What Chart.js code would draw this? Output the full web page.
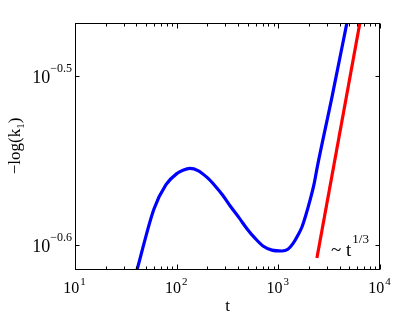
<!DOCTYPE html>
<html>
<head>
<meta charset="utf-8">
<script src="https://cdn.jsdelivr.net/npm/chart.js@4"></script>
<style>
html,body{margin:0;padding:0;background:#fff;}
#wrap{width:420px;height:316px;position:relative;}
</style>
</head>
<body>
<div id="wrap"><canvas id="c" width="420" height="316"></canvas></div>
<script>
// Blue curve: -log(k1) vs t
const blueT = [40.7, 59.8, 78.5, 100.7, 115.3, 135, 162, 199, 238, 285, 342, 410, 491, 589, 706, 865, 1085, 1243, 1392, 1558, 1707, 1868, 2045, 2239, 2420, 3365, 4726];
const blueK = [0.2427, 0.2638, 0.2727, 0.2769, 0.2781, 0.2788, 0.2780, 0.2754, 0.2723, 0.2687, 0.2645, 0.2607, 0.2568, 0.2535, 0.2508, 0.2494, 0.2491, 0.2497, 0.2516, 0.2545, 0.2574, 0.2617, 0.2668, 0.2727, 0.2795, 0.3072, 0.3401];
// Red reference line ~ t^(1/3)
const redT = [2396, 6344];
const redK = [0.2467, 0.3401];
// Axis limits and ticks
const xMin = 10, xMax = 10000;
const yMin = Math.pow(10, -0.6149), yMax = Math.pow(10, -0.4685);
const xTickExps = [1, 2, 3, 4];
const yTickExps = ["-0.6", "-0.5"];
const xTitle = "t";
const yTitle = ["\u2212log(k", "1", ")"];
const annot = ["~ t", "1/3"];

const SERIF = '"Liberation Serif", "DejaVu Serif", serif';

function pts(xs, ys){ return xs.map((x,i)=>({x:x, y:ys[i]})); }

const framePlugin = {
  id: 'frame',
  afterDraw(chart){
    const ctx = chart.ctx, a = chart.chartArea;
    const xs = chart.scales.x, ys = chart.scales.y;
    const L = Math.round(a.left)+0.5, R = Math.round(a.right)-0.5, T = Math.round(a.top)+0.5, B = Math.round(a.bottom)-0.5;
    ctx.save();
    ctx.strokeStyle = '#000';
    ctx.lineWidth = 1;
    ctx.strokeRect(L, T, R-L, B-T);
    ctx.beginPath();
    for (let e = 1; e <= 4; e++) {
      for (let m = 1; m <= 9; m++) {
        if (e === 4 && m > 1) break;
        const v = m * Math.pow(10, e);
        const px = Math.round(xs.getPixelForValue(v)) + 0.5;
        const len = (m === 1) ? 5 : 3;
        ctx.moveTo(px, B); ctx.lineTo(px, B - len);
        ctx.moveTo(px, T); ctx.lineTo(px, T + len);
      }
    }
    yTickExps.forEach(ex => {
      const py = Math.round(ys.getPixelForValue(Math.pow(10, parseFloat(ex)))) + 0.5;
      ctx.moveTo(L, py); ctx.lineTo(L + 4, py);
      ctx.moveTo(R, py); ctx.lineTo(R - 4, py);
    });
    ctx.stroke();

    ctx.fillStyle = '#000';
    ctx.textBaseline = 'alphabetic';
    ctx.textAlign = 'left';
    xTickExps.forEach(ex => {
      const px = xs.getPixelForValue(Math.pow(10, ex));
      ctx.font = '16px ' + SERIF;
      const w1 = ctx.measureText('10').width;
      ctx.font = '11px ' + SERIF;
      const w2 = ctx.measureText(String(ex)).width;
      const x0 = px - (w1 + w2) / 2 - 1;
      ctx.font = '16px ' + SERIF;
      ctx.fillText('10', x0, 293);
      ctx.font = '11px ' + SERIF;
      ctx.fillText(String(ex), x0 + w1 + 1, 285);
    });
    yTickExps.forEach(ex => {
      const py = ys.getPixelForValue(Math.pow(10, parseFloat(ex)));
      const sup = '\u2212' + ex.slice(1);
      ctx.font = '12px ' + SERIF;
      const w2 = ctx.measureText(sup).width;
      ctx.font = '18px ' + SERIF;
      const w1 = ctx.measureText('10').width;
      const xr = 72;
      ctx.fillText('10', xr - w2 - w1, py + 7);
      ctx.font = '12px ' + SERIF;
      ctx.fillText(sup, xr - w2, py - 4);
    });
    ctx.font = '17px ' + SERIF;
    ctx.textAlign = 'center';
    ctx.fillText(xTitle, (a.left + a.right) / 2, 311);
    ctx.save();
    ctx.translate(20, 146);
    ctx.rotate(-Math.PI / 2);
    ctx.textAlign = 'left';
    ctx.font = '17px ' + SERIF;
    const t1 = ctx.measureText(yTitle[0]).width;
    const t3 = ctx.measureText(yTitle[2]).width;
    ctx.font = '11px ' + SERIF;
    const t2 = ctx.measureText(yTitle[1]).width;
    let x0 = -(t1 + t2 + t3) / 2;
    ctx.font = '17px ' + SERIF;
    ctx.fillText(yTitle[0], x0, 0);
    ctx.font = '11px ' + SERIF;
    ctx.fillText(yTitle[1], x0 + t1, 4);
    ctx.font = '17px ' + SERIF;
    ctx.fillText(yTitle[2], x0 + t1 + t2, 0);
    ctx.restore();
    ctx.textAlign = 'left';
    ctx.font = '19px ' + SERIF;
    ctx.fillText(annot[0], 331, 256);
    const aw = ctx.measureText(annot[0]).width;
    ctx.font = '13px ' + SERIF;
    ctx.fillText(annot[1], 331 + aw + 1, 243);
    ctx.restore();
  }
};

new Chart(document.getElementById('c'), {
  type: 'line',
  data: {
    datasets: [
      { data: pts(blueT, blueK), borderColor: '#0000ff', borderWidth: 3.2, pointRadius: 0, cubicInterpolationMode: 'monotone', fill: false, clip: 0 },
      { data: pts(redT, redK), borderColor: '#ff0000', borderWidth: 3.2, pointRadius: 0, tension: 0, fill: false, clip: 0 }
    ]
  },
  options: {
    responsive: false,
    animation: false,
    events: [],
    layout: { padding: { left: 75, right: 40, top: 23, bottom: 46 } },
    plugins: { legend: { display: false }, tooltip: { enabled: false } },
    scales: {
      x: { type: 'logarithmic', min: xMin, max: xMax, display: false },
      y: { type: 'logarithmic', min: yMin, max: yMax, display: false }
    }
  },
  plugins: [framePlugin]
});
</script>
</body>
</html>
